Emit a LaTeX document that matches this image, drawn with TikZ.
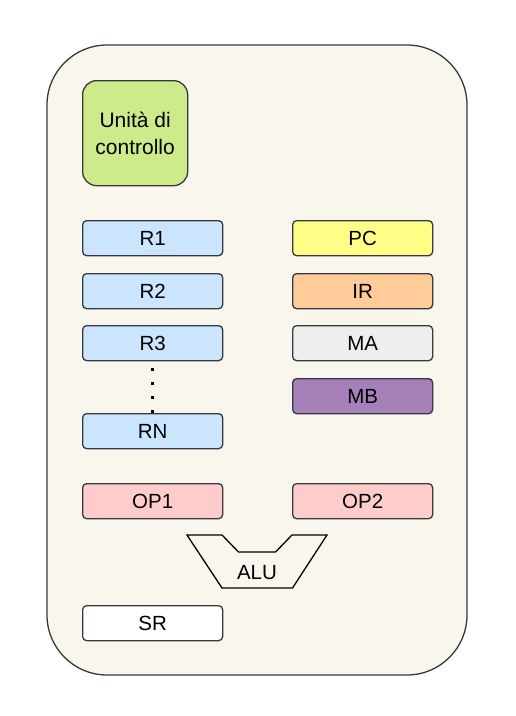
\documentclass[tikz,border=0pt]{standalone}
\usepackage{fontspec}
\setmainfont{Liberation Sans}
\definecolor{strokec}{HTML}{36393D}
\definecolor{outerfill}{HTML}{F9F7ED}
\definecolor{cufill}{HTML}{CDEB8B}
\definecolor{regfill}{HTML}{CCE5FF}
\definecolor{pcfill}{HTML}{FFFF88}
\definecolor{irfill}{HTML}{FFCC99}
\definecolor{mafill}{HTML}{EEEEEE}
\definecolor{mbfill}{HTML}{A680B8}
\definecolor{opfill}{HTML}{FFCCCC}
\tikzset{
  regbox/.style={draw=strokec, line width=1.3pt, rounded corners=4pt, minimum width=140pt, minimum height=35pt, inner sep=0pt, font=\fontsize{20.5}{24}\selectfont, anchor=north west},
}
\begin{document}
\begin{tikzpicture}[x=1pt,y=-1pt]
\useasboundingbox (0,0) rectangle (515,716);
\draw[draw=strokec, fill=outerfill, line width=1.3pt, rounded corners=60pt] (47,45) rectangle (467,675);
\node[draw=strokec, fill=cufill, line width=1.3pt, rounded corners=14pt, minimum width=105pt, minimum height=105pt, inner sep=0pt, anchor=north west, align=center, font=\fontsize{21}{27}\selectfont] (cu) at (82,80) {Unità di\\controllo};
\node[regbox, fill=regfill] (r1) at (82,220) {R1};
\node[regbox, fill=regfill] (r2) at (82,273) {R2};
\node[regbox, fill=regfill] (r3) at (82,325) {R3};
\node[regbox, fill=regfill] (rn) at (82,413) {RN};
\node[regbox, fill=pcfill] (pc) at (292,220) {PC};
\node[regbox, fill=irfill] (ir) at (292,273) {IR};
\node[regbox, fill=mafill] (ma) at (292,325) {MA};
\node[regbox, fill=mbfill] (mb) at (292,378) {MB};
\node[regbox, fill=opfill] (op1) at (82,483) {OP1};
\node[regbox, fill=opfill] (op2) at (292,483) {OP2};
\node[regbox, fill=white] (sr) at (82,605) {SR};
\foreach \yy in {369,383,397,411} \fill (150.5,\yy-1.5) rectangle (153.5,\yy+1.5);
\draw[black, line width=1.3pt, line join=miter] (187,535) -- (222,535) -- (238.5,552) -- (275.5,552) -- (292,535) -- (327,535) -- (292.5,588) -- (222,588) -- cycle;
\node[font=\fontsize{20.5}{24}\selectfont] (alu) at (257,573) {ALU};
\end{tikzpicture}
\end{document}
